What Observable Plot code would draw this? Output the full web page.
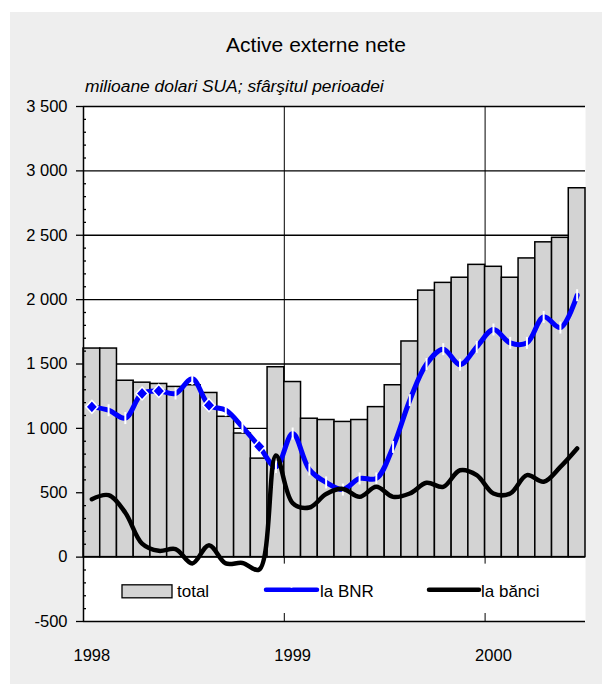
<!DOCTYPE html>
<html>
<head>
<meta charset="utf-8">
<script src="https://cdn.jsdelivr.net/npm/d3@7"></script>
<script src="https://cdn.jsdelivr.net/npm/@observablehq/plot@0.6"></script>
<style>
  body { margin: 0; background: #ffffff; font-family: "Liberation Sans", Arial, sans-serif; }
  #panel { position: absolute; left: 10px; top: 12px; width: 592px; height: 672px; background: #eeeeee; overflow: hidden; }
  #title { position: absolute; left: 4px; width: 604px; top: 22px; text-align: center; font-size: 21px; line-height: 1; color: #000; }
  #subtitle { position: absolute; left: 75px; top: 66px; font-size: 17.4px; line-height: 1; font-style: italic; color: #000; white-space: nowrap; }
  #chart { position: absolute; left: 0; top: 84px; }
  #chart svg { display: block; }
</style>
</head>
<body>
<div id="panel">
  <div id="title">Active externe nete</div>
  <div id="subtitle">milioane dolari SUA; sfârşitul perioadei</div>
  <div id="chart"></div>
</div>
<script>
// ---- data (milioane dolari SUA, sfârşitul lunii) ----
const months = [
  "1998-01","1998-02","1998-03","1998-04","1998-05","1998-06",
  "1998-07","1998-08","1998-09","1998-10","1998-11","1998-12",
  "1999-01","1999-02","1999-03","1999-04","1999-05","1999-06",
  "1999-07","1999-08","1999-09","1999-10","1999-11","1999-12",
  "2000-01","2000-02","2000-03","2000-04","2000-05","2000-06"
];
const total = [1620, 1620, 1370, 1355, 1345, 1322, 1335, 1275, 1090, 960, 765, 1475,
               1360, 1075, 1065, 1050, 1065, 1165, 1335, 1675, 2070, 2130, 2170, 2270,
               2255, 2170, 2320, 2445, 2480, 2865];
const laBNR = [1167, 1141, 1080, 1271, 1291, 1271, 1385, 1180, 1141, 1010, 860, 700,
               960, 680, 580, 525, 611, 611, 856, 1219, 1500, 1615, 1495, 1633,
               1768, 1664, 1664, 1866, 1783, 2034];
const laBanci = [450, 481, 345, 105, 49, 62, -49, 93, -49, -45, -96, 790,
                 420, 385, 490, 530, 468, 546, 468, 494, 577, 546, 675, 637,
                 494, 494, 637, 585, 701, 844];
const yearLabels = ["1998", "1999", "2000"];
const yTicks = [-500, 0, 500, 1000, 1500, 2000, 2500, 3000, 3500];
const seriesNames = ["total", "la BNR", "la bănci"];
const diamondIdx = [0, 3, 4, 7, 10];

// ---- derived table ----
const rows = months.map((m, i) => ({ i, m, total: total[i], bnr: laBNR[i], banci: laBanci[i] }));
const yearStarts = rows.filter(d => d.m.endsWith("-01")).map(d => d.i);
const fmt = d => String(d).replace(/\B(?=(\d{3})+(?!\d))/g, " ");
const minorTicks = d3.range(-500, 3501, 100).filter(d => d % 500 !== 0);

const vlineSymbol = { draw(ctx) { ctx.moveTo(0, -6); ctx.lineTo(0, 6); } };
const diamondSymbol = { draw(ctx) { ctx.moveTo(0, -6.5); ctx.lineTo(6, 0); ctx.lineTo(0, 6.5); ctx.lineTo(-6, 0); ctx.closePath(); } };

const legendBox = (index, scales) => {
  const g = d3.create("svg:g");
  const x0 = scales.x(0), x1 = scales.x(months.length);
  const y0 = scales.y(0), yb = scales.y(-500);
  g.append("rect").attr("x", x0 + 5).attr("y", y0 + 7)
    .attr("width", x1 - x0 - 9).attr("height", yb - y0 - 15).attr("fill", "white");
  return g.node();
};

const legendItems = (index, scales) => {
  const g = d3.create("svg:g").attr("font-size", 17).attr("text-anchor", "start")
    .attr("font-family", "Liberation Sans, Arial, sans-serif");
  const x0 = scales.x(0);
  const ly = (scales.y(0) + scales.y(-500)) / 2 + 1;
  g.append("rect").attr("x", x0 + 39).attr("y", ly - 5).attr("width", 50).attr("height", 13)
    .attr("fill", "#d3d3d3").attr("stroke", "black").attr("stroke-width", 1.3);
  g.append("text").attr("x", x0 + 94).attr("y", ly + 7).attr("text-anchor", "start").text(seriesNames[0]);
  g.append("line").attr("x1", x0 + 183).attr("x2", x0 + 234).attr("y1", ly).attr("y2", ly)
    .attr("stroke", "#0000ff").attr("stroke-width", 4.5).attr("stroke-dasharray", "24,3").attr("stroke-linecap", "round");
  g.append("text").attr("x", x0 + 237).attr("y", ly + 7).attr("text-anchor", "start").text(seriesNames[1]);
  g.append("line").attr("x1", x0 + 346).attr("x2", x0 + 396).attr("y1", ly).attr("y2", ly)
    .attr("stroke", "black").attr("stroke-width", 4.5).attr("stroke-linecap", "round");
  g.append("text").attr("x", x0 + 398).attr("y", ly + 7).attr("text-anchor", "start").text(seriesNames[2]);
  return g.node();
};

const chart = Plot.plot({
  width: 592,
  height: 588,
  marginLeft: 73,
  marginRight: 17,
  marginTop: 10,
  marginBottom: 63,
  style: { background: "transparent", fontFamily: "Liberation Sans, Arial, sans-serif", fontSize: "16.5px", color: "black" },
  x: { domain: [0, months.length], axis: null },
  y: { domain: [-500, 3500], axis: null },
  marks: [
    Plot.frame({ fill: "white", stroke: null }),
    Plot.ruleY(yTicks.filter(d => d >= 0), { stroke: "black", strokeWidth: 1.4 }),
    Plot.ruleX(yearStarts.filter(i => i > 0), { y1: -500, y2: 3500, stroke: "black", strokeWidth: 1 }),
    Plot.rect(rows, { x1: d => d.i, x2: d => d.i + 1, y1: 0, y2: "total", fill: "#d3d3d3", stroke: "black", strokeWidth: 1.5 }),
    legendBox,
    Plot.line(rows, { x: d => d.i + 0.5, y: "bnr", stroke: "#0000ff", strokeWidth: 5, curve: "catmull-rom" }),
    Plot.dot(rows.filter(d => !diamondIdx.includes(d.i)), { x: d => d.i + 0.5, y: "bnr", symbol: vlineSymbol, stroke: "white", strokeWidth: 2, fill: "none" }),
    Plot.dot(rows.filter(d => diamondIdx.includes(d.i)), { x: d => d.i + 0.5, y: "bnr", symbol: diamondSymbol, fill: "#0000ff", stroke: "white", strokeWidth: 1.5 }),
    Plot.line(rows, { x: d => d.i + 0.5, y: "banci", stroke: "black", strokeWidth: 4.5, curve: "catmull-rom" }),
    legendItems,
    Plot.ruleX([0], { y1: -500, y2: 3500, stroke: "black", strokeWidth: 1.5 }),
    Plot.ruleY([-500], { stroke: "black", strokeWidth: 1.5 }),
    Plot.axisY({ ticks: yTicks, tickSize: 7, tickPadding: 9, tickFormat: fmt, fontSize: 16.5, label: null, strokeWidth: 1.3 }),
    Plot.axisY({ ticks: minorTicks, tickSize: 3, dx: 3, fill: "none", label: null, strokeWidth: 1.3 }),
    Plot.axisX({ ticks: yearStarts.map(i => i + 0.5), tickSize: 0, tickPadding: 28, fontSize: 16.5, label: null,
                 tickFormat: d => yearLabels[yearStarts.indexOf(d - 0.5)] })
  ]
});
document.getElementById("chart").appendChild(chart);
</script>
</body>
</html>
